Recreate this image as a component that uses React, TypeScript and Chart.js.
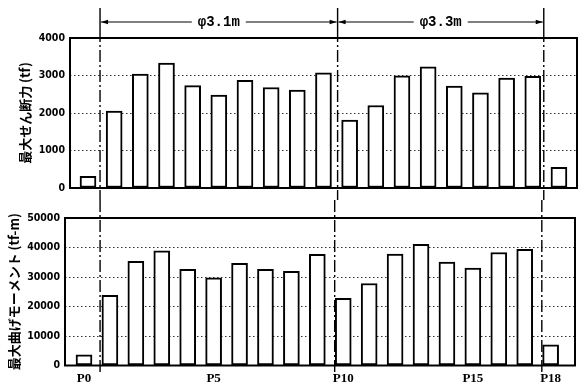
import React, { useEffect, useRef } from "react";
import { Chart, registerables } from "chart.js";

Chart.register(...registerables);

const piers = ["P0","P1","P2","P3","P4","P5","P6","P7","P8","P9","P10","P11","P12","P13","P14","P15","P16","P17","P18"];
const shearForce = [310, 2050, 3040, 3330, 2730, 2480, 2870, 2680, 2610, 3070, 1810, 2200, 2990, 3230, 2720, 2540, 2930, 2980, 550];
const bendingMoment = [3600, 23800, 35300, 38900, 32600, 29700, 34600, 32600, 31900, 37700, 22800, 27800, 37800, 41100, 35100, 33000, 38300, 39400, 7000];
const xTickIndices = [0, 5, 10, 15, 18];
const shearTicks = [0, 1000, 2000, 3000, 4000];
const momentTicks = [0, 10000, 20000, 30000, 40000, 50000];
const sectionLabels = ["φ3.1m", "φ3.3m"];
const shearTitle = "最大せん断力 (tf)";
const momentTitle = "最大曲げモーメント (tf-m)";
const topDividers = [0.46, 9.54, 17.42];
const bottomDividers = [0.62, 9.67, 17.66];

const tickFont = { family: "'DejaVu Sans Condensed', 'DejaVu Sans', sans-serif", size: 10.5, weight: "bold" as const };

const framePlugin = {
  id: "frame",
  afterDatasetsDraw(chart: any) {
    const { ctx, chartArea: a } = chart;
    ctx.save();
    ctx.strokeStyle = "#000";
    ctx.lineWidth = 2;
    ctx.strokeRect(a.left, a.top, a.right - a.left, a.bottom - a.top);
    ctx.restore();
  },
};

function makeTitlePlugin(text: string, cx: number) {
  return {
    id: "ytitle",
    afterDraw(chart: any) {
      const { ctx, chartArea: a } = chart;
      ctx.save();
      ctx.translate(cx, (a.top + a.bottom) / 2);
      ctx.rotate(-Math.PI / 2);
      ctx.fillStyle = "#000";
      ctx.font = "bold 13px 'Noto Sans CJK JP', sans-serif";
      ctx.textAlign = "center";
      ctx.textBaseline = "middle";
      ctx.fillText(text, 0, 0);
      ctx.restore();
    },
  };
}

function arrowHead(ctx: CanvasRenderingContext2D, x: number, y: number, dir: number) {
  ctx.beginPath();
  ctx.moveTo(x, y);
  ctx.lineTo(x - dir * 7, y - 2.2);
  ctx.lineTo(x - dir * 7, y + 2.2);
  ctx.closePath();
  ctx.fill();
}

function makeDividerPlugin(dividers: number[], yTop: number, yBottom: number | null, withLabels: boolean) {
  return {
    id: "dividers",
    afterDraw(chart: any) {
      const ctx: CanvasRenderingContext2D = chart.ctx;
      const xs = chart.scales.x;
      const px = dividers.map((d) => xs.getPixelForValue(d));
      const yb = yBottom === null ? chart.height : yBottom;
      ctx.save();
      ctx.strokeStyle = "#000";
      ctx.fillStyle = "#000";
      ctx.lineWidth = 1.4;
      let start = yTop;
      if (withLabels) {
        ctx.beginPath();
        px.forEach((x) => {
          ctx.moveTo(x, yTop);
          ctx.lineTo(x, yTop + 22);
        });
        ctx.stroke();
        start = yTop + 22;
      }
      ctx.setLineDash([12, 3, 2, 3]);
      px.forEach((x) => {
        ctx.beginPath();
        ctx.moveTo(x, start);
        ctx.lineTo(x, yb);
        ctx.stroke();
      });
      ctx.setLineDash([]);
      if (withLabels) {
        const y = 22;
        ctx.lineWidth = 1;
        ctx.font = "bold 14px 'Liberation Mono', 'DejaVu Sans Mono', monospace";
        ctx.textAlign = "center";
        ctx.textBaseline = "middle";
        for (let i = 0; i < sectionLabels.length; i++) {
          const x1 = px[i];
          const x2 = px[i + 1];
          const cx = (x1 + x2) / 2;
          const w = ctx.measureText(sectionLabels[i]).width;
          ctx.beginPath();
          ctx.moveTo(x1 + 1, y);
          ctx.lineTo(cx - w / 2 - 6, y);
          ctx.moveTo(cx + w / 2 + 6, y);
          ctx.lineTo(x2 - 1, y);
          ctx.stroke();
          arrowHead(ctx, x1 + 1, y, -1);
          arrowHead(ctx, x2 - 1, y, 1);
          ctx.fillText(sectionLabels[i], cx, y);
        }
      }
      ctx.restore();
    },
  };
}

function baseY(ticks: number[], max: number, width: number) {
  return {
    min: 0,
    max,
    afterBuildTicks: (s: any) => {
      s.ticks = ticks.map((v) => ({ value: v }));
    },
    afterFit: (s: any) => {
      s.width = width;
    },
    ticks: { padding: 5, color: "#000", font: tickFont, callback: (v: any) => String(v) },
    grid: { drawTicks: false, color: "#333", lineWidth: 1 },
    border: { display: false, dash: [1.5, 2.5] },
  };
}

function baseX(min: number, max: number) {
  return {
    type: "linear",
    min,
    max,
    offset: false,
    bounds: "data",
    grace: 0,
  };
}

function barDataset(values: number[]) {
  return {
    data: values.map((v, i) => ({ x: i, y: v })),
    backgroundColor: "#fff",
    borderColor: "#000",
    borderWidth: 2,
    borderSkipped: false,
    barThickness: 16,
  };
}

export default function App() {
  const topRef = useRef<HTMLCanvasElement>(null);
  const botRef = useRef<HTMLCanvasElement>(null);

  useEffect(() => {
    const top = new Chart(topRef.current!, {
      type: "bar",
      data: { datasets: [barDataset(shearForce) as any] },
      options: {
        animation: false,
        responsive: false,
        maintainAspectRatio: false,
        layout: { padding: { top: 38, right: 6, bottom: 12, left: 0 } },
        plugins: { legend: { display: false }, tooltip: { enabled: false } },
        scales: {
          x: { ...baseX(-0.688, 18.69), display: false } as any,
          y: baseY(shearTicks, 4000, 70) as any,
        },
      },
      plugins: [framePlugin, makeTitlePlugin(shearTitle, 25), makeDividerPlugin(topDividers, 8, null, true)],
    });
    const bot = new Chart(botRef.current!, {
      type: "bar",
      data: { datasets: [barDataset(bendingMoment) as any] },
      options: {
        animation: false,
        responsive: false,
        maintainAspectRatio: false,
        layout: { padding: { top: 18, right: 8, bottom: 0, left: 0 } },
        plugins: { legend: { display: false }, tooltip: { enabled: false } },
        scales: {
          x: {
            ...baseX(-0.733, 18.94),
            afterBuildTicks: (s: any) => {
              s.ticks = xTickIndices.map((v) => ({ value: v }));
            },
            afterFit: (s: any) => {
              s.height = 22.5;
            },
            ticks: {
              autoSkip: false,
              maxRotation: 0,
              padding: 5,
              color: "#000",
              font: { family: "'Liberation Serif', 'DejaVu Serif', serif", size: 13, weight: "bold" },
              callback: (v: any) => piers[v] ?? "",
            },
            grid: { display: false, drawTicks: false },
            border: { display: false },
          } as any,
          y: baseY(momentTicks, 50000, 65) as any,
        },
      },
      plugins: [framePlugin, makeTitlePlugin(momentTitle, 14.5), makeDividerPlugin(bottomDividers, 0, 172, false)],
    });
    return () => {
      top.destroy();
      bot.destroy();
    };
  }, []);

  return (
    <div style={{ position: "fixed", left: 0, top: 0, width: 583, height: 388, background: "#fff" }}>
      <canvas ref={topRef} width={583} height={200} style={{ position: "absolute", left: 0, top: 0, display: "block" }} />
      <canvas ref={botRef} width={583} height={188} style={{ position: "absolute", left: 0, top: 200, display: "block" }} />
    </div>
  );
}
